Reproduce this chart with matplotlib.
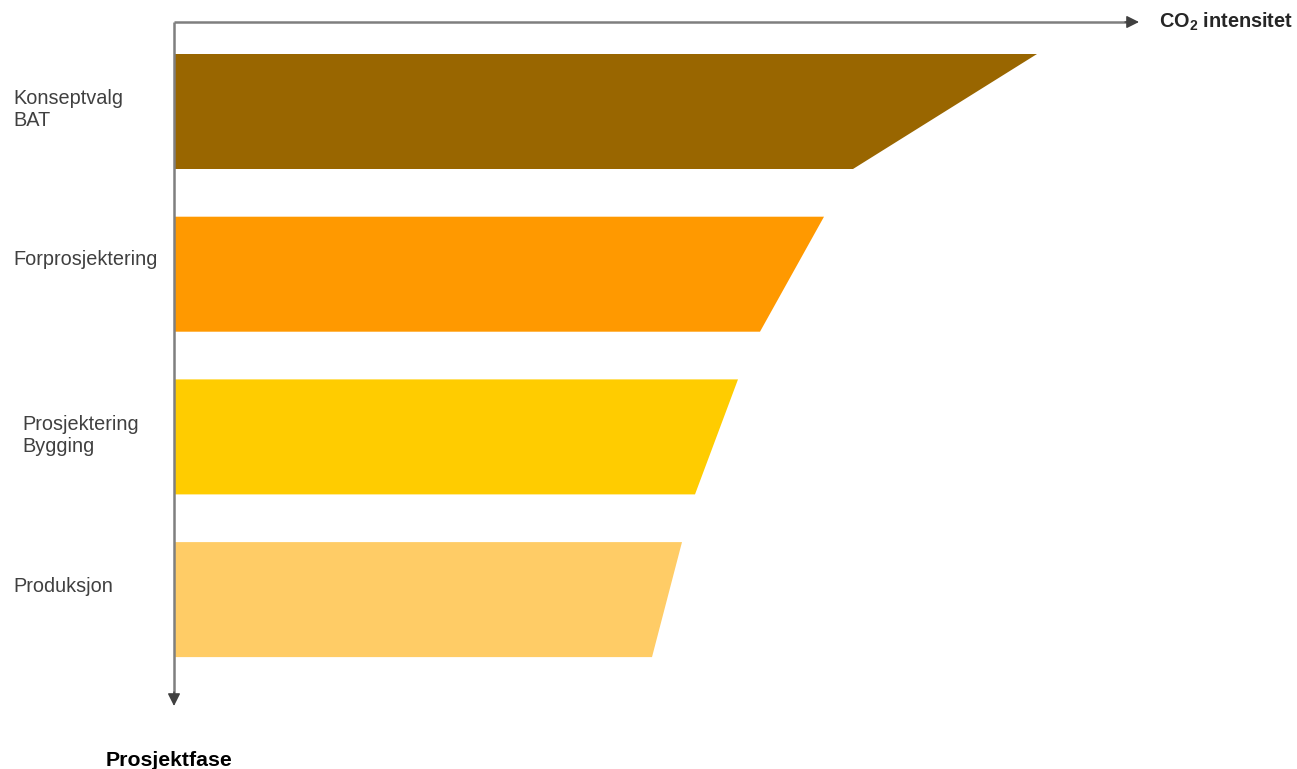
import matplotlib
matplotlib.use("Agg")
import matplotlib.pyplot as plt
from matplotlib.patches import Polygon

# faser, ovenfra og ned
phases = ["Konseptvalg\nBAT", "Forprosjektering", "Prosjektering\nBygging", "Produksjon"]
# CO2-intensitet ved øvre og nedre kant av hver fase (vilkårlige enheter)
top_value = [863, 650, 564, 508]
bottom_value = [679, 586, 521, 478]
colors = ["#996600", "#FF9900", "#FFCC00", "#FFCC66"]
label_x = [-161, -161, -152, -161]
label_dy = [-2, -15, -1, -13]

W, H = 1297, 769
fig = plt.figure(figsize=(W / 100, H / 100), dpi=100)
ax = fig.add_axes([0, 0, 1, 1])
# origo i aksekrysset
x0, y0 = 174, 22
ax.set_xlim(-x0, W - x0)
ax.set_ylim(H - y0, -y0)
ax.axis("off")

step, bar_h, first = 162.7, 115, 32
for i, (name, t, b, c) in enumerate(zip(phases, top_value, bottom_value, colors)):
    ytop = first + i * step
    ybot = ytop + bar_h
    ax.add_patch(Polygon([(0, ytop), (t, ytop), (b, ybot), (0, ybot)],
                         closed=True, facecolor=c, edgecolor="none"))
    ax.text(label_x[i], (ytop + ybot) / 2 + label_dy[i], name, ha="left", va="center",
            fontsize=14.3, family="Liberation Sans", color="#404040",
            linespacing=1.2)

# akser med pilspisser
x_end, y_end = W - x0 - 158, 684
arrow = dict(arrowstyle="-|>", color="#404040", lw=1.0,
             mutation_scale=19, shrinkA=0, shrinkB=0)
ax.annotate("", xy=(x_end, 0), xytext=(x_end - 14, 0), arrowprops=arrow)
ax.annotate("", xy=(0, y_end), xytext=(0, y_end - 14), arrowprops=arrow)
ax.plot([0, x_end - 8], [0, 0], color="#7f7f7f", lw=1.8, solid_capstyle="butt")
ax.plot([0, 0], [0, y_end - 8], color="#7f7f7f", lw=1.8, solid_capstyle="butt")

ax.text(W - x0 - 138, 0, "CO$_\\mathregular{2}$ intensitet", ha="left", va="center",
        fontsize=14.3, fontweight="bold", family="Liberation Sans", color="#262626")
ax.text(-68, 739, "Prosjektfase", ha="left", va="center",
        fontsize=15.3, fontweight="bold", family="Liberation Sans", color="#000000")

fig.savefig("out.png", dpi=100)
